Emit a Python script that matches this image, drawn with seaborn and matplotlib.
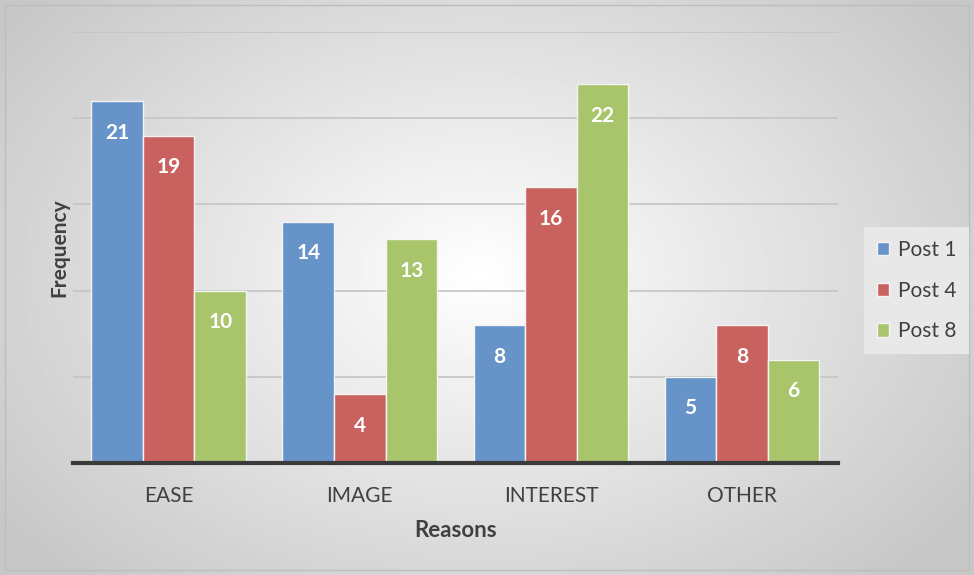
import seaborn as sns
import matplotlib.pyplot as plt
import pandas as pd
import numpy as np

reasons = ["EASE", "IMAGE", "INTEREST", "OTHER"]
series = ["Post 1", "Post 4", "Post 8"]
post1 = [21, 14, 8, 5]
post4 = [19, 4, 16, 8]
post8 = [10, 13, 22, 6]
colors = ["#6794C8", "#C9625F", "#A8C56C"]

rows = []
for name, vals in zip(series, [post1, post4, post8]):
    for r, v in zip(reasons, vals):
        rows.append({"Reasons": r, "Series": name, "Frequency": v})
df = pd.DataFrame(rows)

sns.set_style("white")
plt.rcParams['font.family'] = ['Lato', 'DejaVu Sans']

fig = plt.figure(figsize=(9.74, 5.75), dpi=100)

# radial grey gradient background
bg = fig.add_axes([0, 0, 1, 1], zorder=-10)
xx, yy = np.meshgrid(np.linspace(0, 974, 400), np.linspace(0, 575, 240))
d = np.sqrt(((xx - 480) / 600) ** 2 + ((yy - 300) / 420) ** 2)
shade = np.clip(1.0 - 0.22 * d, 0.78, 1.0)
bg.imshow(shade, cmap="gray", vmin=0, vmax=1, extent=[0, 974, 0, 575], aspect="auto", origin="lower")
bg.add_patch(plt.Rectangle((5, 5), 964, 565, fill=False, ec="#bdbdbd", lw=1))
bg.set_xlim(0, 974)
bg.set_ylim(0, 575)
bg.axis("off")

ax = fig.add_axes([0.075, 0.195, 0.785, 0.749])
ax.patch.set_alpha(0)
sns.barplot(data=df, x="Reasons", y="Frequency", hue="Series", palette=colors, saturation=1,
            width=0.81, edgecolor="#f4f4f4", linewidth=1, ax=ax, zorder=3)

ax.set_ylim(0, 25)
ax.set_yticks([5, 10, 15, 20, 25])
ax.yaxis.grid(True, color="#c4c4c4", lw=1.2, zorder=0)
ax.set_axisbelow(True)
ax.tick_params(axis="y", length=0, labelleft=False)
ax.tick_params(axis="x", length=0, labelsize=15, colors="#404040", pad=17)
for s in ["top", "right", "left"]:
    ax.spines[s].set_visible(False)
ax.spines["bottom"].set_color("#3a3a3a")
ax.spines["bottom"].set_linewidth(3)
ax.spines["bottom"].set_zorder(5)

ax.set_xlabel("Reasons", fontsize=16, fontweight="bold", color="#404040", labelpad=10)
ax.set_ylabel("Frequency", fontsize=15, fontweight="bold", color="#404040", labelpad=3)

for cont in ax.containers:
    ax.bar_label(cont, labels=[str(int(v)) for v in cont.datavalues], label_type="edge",
                 padding=-30, color="white", fontsize=15, fontweight="bold", zorder=6)

leg = ax.legend(loc="center left", bbox_to_anchor=(1.035, 0.40), frameon=True,
                fontsize=15, labelspacing=1.0, handlelength=0.6, handleheight=0.6,
                handletextpad=0.4, borderpad=0.6, borderaxespad=0,
                facecolor="#e8e8e8", edgecolor="none")
for t in leg.get_texts():
    t.set_color("#404040")
leg.get_frame().set_alpha(1)
leg.get_frame().set_boxstyle("square", pad=0)

fig.savefig("out.png", dpi=100)
